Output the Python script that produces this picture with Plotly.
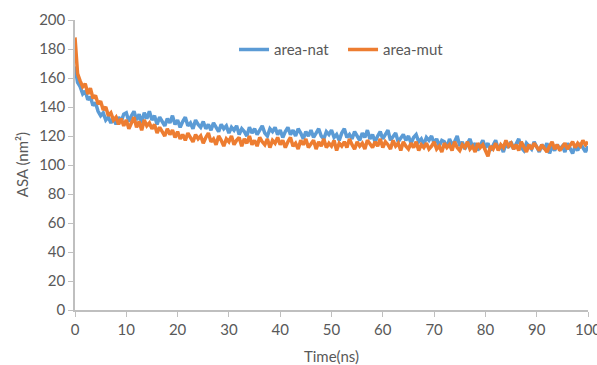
import plotly.graph_objects as go

# Time axis: 0 to 100 ns, sampled every 0.5 ns
time_ns = [i * 0.5 for i in range(201)]

area_nat = [
    168, 157, 154, 149, 151, 145, 147, 141, 143, 137,
    134, 136, 131, 133, 129, 132, 128, 133, 130, 135,
    136, 130, 134, 137, 131, 135, 129, 136, 132, 137,
    131, 134, 128, 133, 130, 127, 132, 129, 134, 128,
    131, 126, 130, 133, 127, 129, 125, 131, 128, 126,
    130, 125, 128, 124, 129, 126, 123, 128, 125, 127,
    122, 126, 124, 127, 121, 125, 123, 120, 126, 122,
    125, 121, 124, 127, 122, 120, 125, 123, 126, 121,
    124, 119, 123, 126, 121, 124, 120, 125, 122, 118,
    123, 120, 124, 119, 122, 125, 120, 118, 123, 121,
    124, 119, 121, 117, 122, 125, 119, 121, 118, 123,
    120, 117, 122, 119, 124, 118, 121, 116, 120, 123,
    118, 121, 124, 117, 120, 122, 116, 119, 121, 117,
    120, 115, 119, 121, 116, 118, 114, 119, 117, 120,
    115, 118, 113, 117, 116, 112, 118, 114, 116, 120,
    113, 116, 111, 115, 118, 112, 115, 110, 114, 117,
    112, 115, 110, 114, 117, 111, 113, 109, 115, 112,
    116, 111, 114, 118, 112, 110, 115, 113, 111, 116,
    112, 109, 114, 111, 115, 108, 113, 110, 114, 111,
    113, 109, 115, 111, 108, 113, 110, 115, 112, 109,
    113,
]

area_mut = [
    188, 163, 158, 154, 156, 149, 153, 146, 148, 142,
    144, 138, 140, 134, 136, 131, 133, 128, 132, 127,
    131, 125, 129, 133, 126, 130, 124, 131, 127, 129,
    125, 128, 122, 126, 123, 120, 125, 121, 124, 119,
    123, 118, 121, 117, 122, 119, 116, 121, 118, 120,
    115, 119, 122, 116, 118, 114, 120, 117, 113, 118,
    116, 120, 114, 117, 119, 113, 118, 115, 120, 114,
    117, 113, 119, 116, 114, 118, 112, 117, 115, 119,
    114, 117, 112, 116, 119, 113, 115, 111, 117, 114,
    118, 112, 115, 117, 111, 116, 113, 118, 112, 115,
    113, 117, 110, 115, 113, 116, 112, 118, 114, 111,
    116, 113, 115, 111, 117, 114, 112, 116, 113, 118,
    112, 116, 114, 111, 117, 113, 115, 110, 116, 113,
    111, 115, 112, 116, 110, 114, 112, 115, 111, 113,
    116, 111, 113, 109, 115, 112, 114, 110, 116, 112,
    110, 114, 112, 116, 111, 113, 109, 115, 112, 114,
    110, 106, 113, 111, 115, 110, 114, 112, 117, 113,
    115, 111, 114, 110, 116, 112, 109, 114, 111, 115,
    112, 110, 114, 111, 109, 113, 116, 111, 114, 110,
    113, 115, 111, 114, 116, 112, 115, 113, 117, 114,
    116,
]

x_ticks = [0, 10, 20, 30, 40, 50, 60, 70, 80, 90, 100]
y_ticks = [0, 20, 40, 60, 80, 100, 120, 140, 160, 180, 200]

BLUE = "#5b9bd5"
ORANGE = "#ed7d31"
AXIS = "#bfbfbf"
TEXT = "#595959"
FONT = "Lato, 'Open Sans', sans-serif"

fig = go.Figure()
fig.add_trace(go.Scatter(x=time_ns, y=area_nat, mode="lines", name="area-nat",
                         line=dict(color=BLUE, width=3.5)))
fig.add_trace(go.Scatter(x=time_ns, y=area_mut, mode="lines", name="area-mut",
                         line=dict(color=ORANGE, width=3.5)))

# Y-axis title placed as a rotated annotation so it sits close to the tick labels
fig.add_annotation(text="ASA (nm²)", xref="paper", yref="paper",
                   x=-0.103, y=0.5, xanchor="center", yanchor="middle",
                   textangle=-90, showarrow=False,
                   font=dict(family=FONT, size=15, color=TEXT))

fig.update_layout(
    width=597, height=365,
    margin=dict(l=75, r=9, t=20, b=55),
    paper_bgcolor="white", plot_bgcolor="white",
    font=dict(family=FONT, size=15, color=TEXT),
    showlegend=True,
    legend=dict(orientation="h", x=0.31, y=0.897, xanchor="left", yanchor="middle",
                bgcolor="rgba(0,0,0,0)", font=dict(size=15, color=TEXT),
                itemwidth=30, entrywidth=64, entrywidthmode="pixels"),
    xaxis=dict(range=[0, 100], tickvals=x_ticks, showgrid=False, zeroline=False,
               showline=True, linecolor=AXIS, linewidth=1.5,
               ticks="outside", ticklen=5, tickcolor=AXIS,
               ticklabeloverflow="allow", automargin=False,
               title=dict(text="Time(ns)", font=dict(size=15, color=TEXT))),
    yaxis=dict(range=[0, 200], tickvals=y_ticks, showgrid=False, zeroline=False,
               showline=True, linecolor=AXIS, linewidth=1.5,
               ticks="outside", ticklen=5, tickcolor=AXIS, automargin=False),
)

fig.write_html("out.html")
